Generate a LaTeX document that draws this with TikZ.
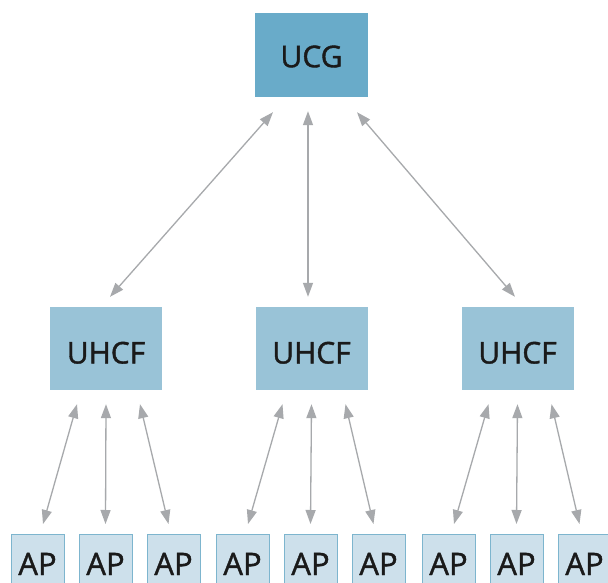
\documentclass[tikz,border=0pt]{standalone}
\usepackage{fontspec}
\setmainfont{Open Sans}
\newfontfamily\lblfont[FakeBold=1.3]{Open Sans}
\usetikzlibrary{arrows.meta,calc}
\definecolor{ucgfill}{HTML}{69ABC9}
\definecolor{uhcffill}{HTML}{99C3D7}
\definecolor{apfill}{HTML}{CDE0EB}
\definecolor{apdraw}{HTML}{7DB5CE}
\definecolor{arrowgray}{HTML}{A7A9AC}
\definecolor{txt}{HTML}{1A1A1A}
\tikzset{
  lbl/.style={text=txt, font=\lblfont\fontsize{30}{32}\selectfont, text depth=0pt},
  ucgbox/.style={lbl, text height=24.5pt, fill=ucgfill, minimum width=113pt, minimum height=84pt, inner sep=0pt},
  uhcfbox/.style={lbl, text height=30pt, fill=uhcffill, minimum width=112pt, minimum height=83pt, inner sep=0pt},
  apbox/.style={lbl, text height=28pt, fill=apfill, draw=apdraw, line width=1pt, minimum width=53pt, minimum height=53pt, inner sep=0pt, font=\lblfont\fontsize{31}{32}\selectfont},
  link/.style={draw=arrowgray, line width=1.3pt, {Triangle[length=14pt,width=10pt]}-{Triangle[length=14pt,width=10pt]}}
}
\begin{document}
\begin{tikzpicture}[x=1pt,y=-1pt]
\clip (0,0) rectangle (608,583);
\fill[white] (0,0) rectangle (608,583);
\node[ucgbox] (ucg) at (311.5,55) {UCG};
\node[uhcfbox] (u1) at (106,348.5) {UHCF};
\node[uhcfbox] (u2) at (311.5,348.5) {UHCF};
\node[uhcfbox] (u3) at (517.5,348.5) {UHCF};
\foreach \i/\x in {1/37.5,2/105.5,3/173.5,4/242.5,5/310.5,6/378.5,7/448.5,8/516.5,9/584.5}
  \node[apbox, anchor=north] (ap\i) at (\x,534) {AP};
\draw[link] ($(ucg.south)+(-38.5,15)$) -- ($(u1.north)+(4,-10)$);
\draw[link] ($(ucg.south)+(-3.5,14)$) -- ($(u2.north)+(-3.5,-10)$);
\draw[link] ($(ucg.south)+(45.5,15)$) -- ($(u3.north)+(-2.5,-10)$);
\foreach \u/\a/\b/\c in {u1/ap1/ap2/ap3,u2/ap4/ap5/ap6,u3/ap7/ap8/ap9}{
  \draw[link] ($(\u.south)+(-29,14)$) -- ($(\a.north)+(5.5,-10)$);
  \draw[link] ($(\u.south)+(0,14)$) -- ($(\b.north)+(0,-10)$);
  \draw[link] ($(\u.south)+(34,14)$) -- ($(\c.north)+(-5,-10)$);
}
\end{tikzpicture}
\end{document}
